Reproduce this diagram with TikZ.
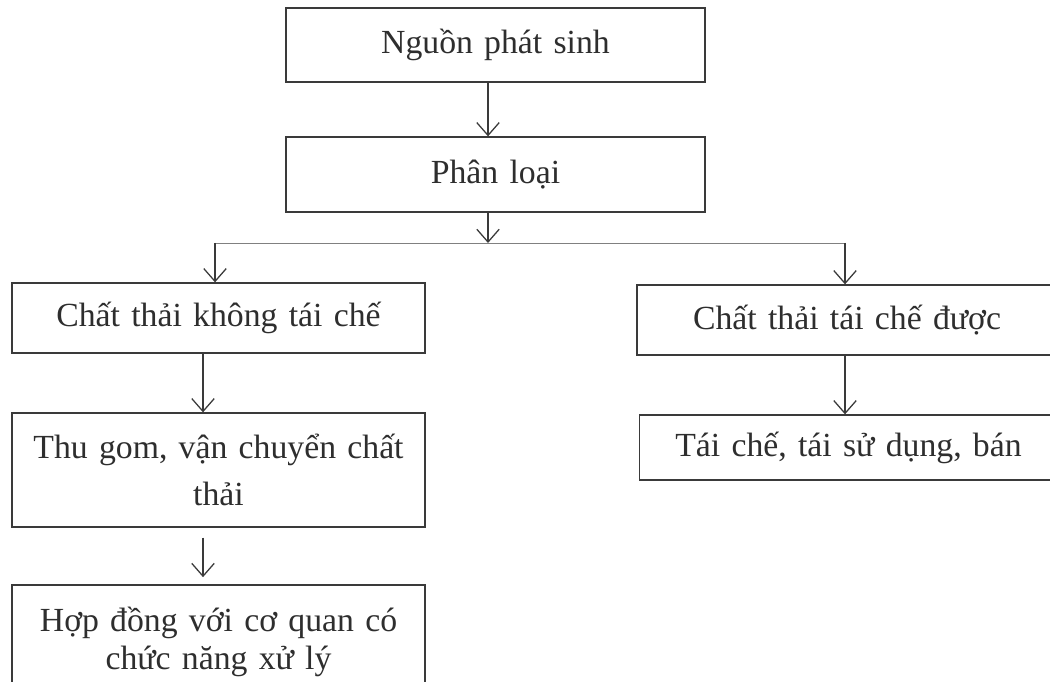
\documentclass[tikz,border=0pt]{standalone}
\usepackage{fontspec}
\setmainfont{Liberation Serif}
\usepackage{xcolor}
\usetikzlibrary{arrows.meta, positioning}

\definecolor{inkgray}{HTML}{2E2E2E}
\definecolor{linegray}{HTML}{3A3A3A}

\begin{document}
\begin{tikzpicture}[x=0.025cm, y=-0.025cm,
  box/.style={draw=linegray, line width=0.9pt, inner sep=0pt, align=center,
    text=inkgray, font=\fontsize{24}{30}\selectfont},
  arr/.style={draw=linegray, line width=0.9pt, -{Straight Barb[length=3.2mm, width=5.6mm]}}]
\useasboundingbox (0,0) rectangle (1050,682);
\clip (0,0) rectangle (1050,682);
\fill[white] (0,0) rectangle (1050,682);

\node[box, text width=10.475cm, minimum height=1.85cm] (src) at (495.5,45) {Nguồn phát sinh};
\node[box, text width=10.475cm, minimum height=1.875cm] (cls) at (495.5,174.5) {Phân loại};
\node[box, text width=10.325cm, minimum height=1.75cm] (nonrec) at (218.5,318) {Chất thải không tái chế};
\node[box, text width=10.5cm, minimum height=1.75cm] (rec) at (847,320) {Chất thải tái chế được};
\node[box, text width=10.325cm, minimum height=2.85cm,
  font=\fontsize{24}{33}\selectfont] (collect) at (218.5,470) {Thu gom, vận chuyển chất\\thải};
\node[box, text width=10.45cm, minimum height=1.625cm] (reuse) at (848.5,447.5) {Tái chế, tái sử dụng, bán};
\node[box, text width=10.325cm, minimum height=2.85cm,
  font=\fontsize{24}{27}\selectfont] (contract) at (218.5,642) {Hợp đồng với cơ quan có\\chức năng xử lý};

\coordinate (jm) at (488,243);
\coordinate (jl) at (215,243);
\coordinate (jr) at (845,243);
\coordinate (lx) at (203,0);

\draw[arr] (src.south -| jm) -- (cls.north -| jm);
\draw[arr] (cls.south -| jm) -- (jm);
\draw[gray, line width=0.5pt] (jl) -- (jr);
\draw[arr] (jl) -- (nonrec.north -| jl);
\draw[arr] (jr) -- (rec.north -| jr);
\draw[arr] (nonrec.south -| lx) -- (collect.north -| lx);
\draw[arr] (rec.south -| jr) -- (reuse.north -| jr);
\draw[arr, shorten <=0.25cm, shorten >=0.18cm] (collect.south -| lx) -- (contract.north -| lx);
\end{tikzpicture}
\end{document}
